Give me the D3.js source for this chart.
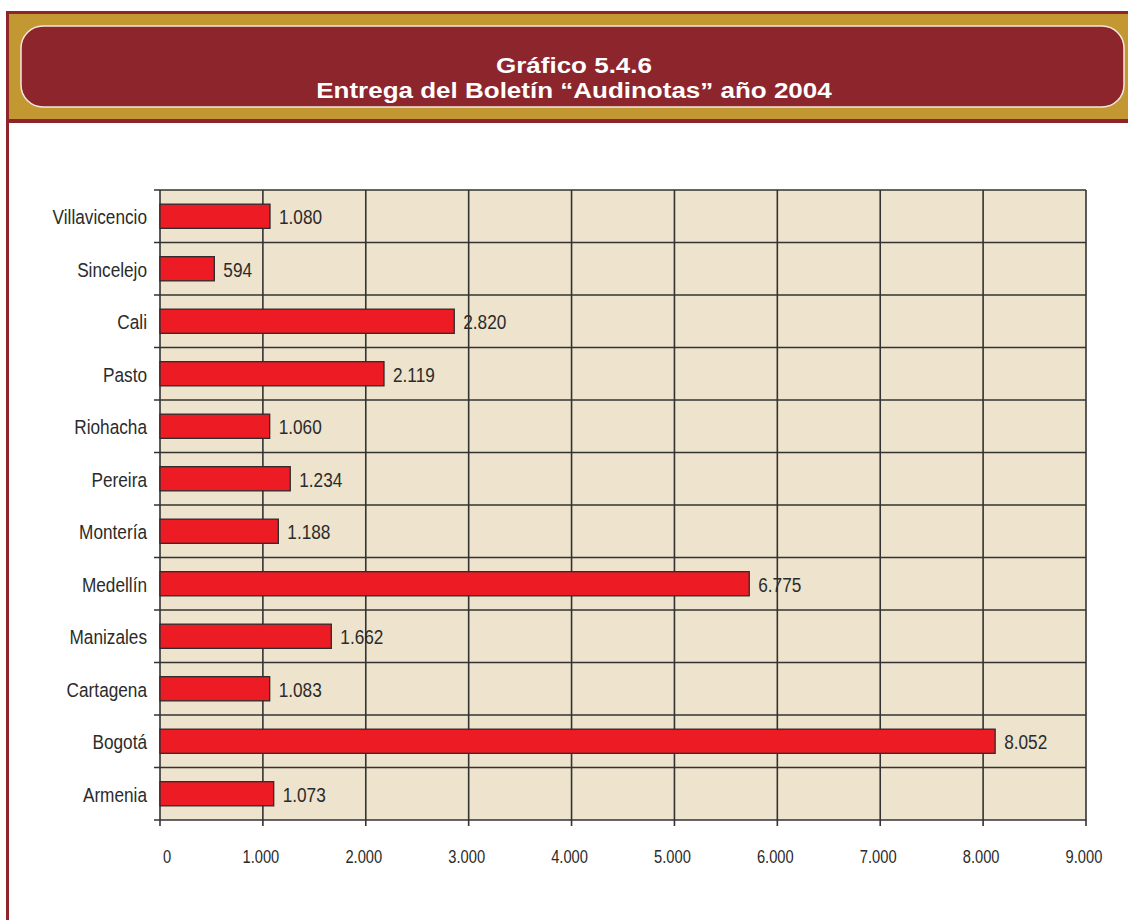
<!DOCTYPE html>
<html>
<head>
<meta charset="utf-8">
<script src="https://cdn.jsdelivr.net/npm/d3@7"></script>
<style>
  html, body { margin: 0; padding: 0; background: #fff; }
  svg { display: block; font-family: "Liberation Sans", Arial, sans-serif; }
</style>
</head>
<body>
<div id="graph"></div>
<script>
// Chart data
const categories = ["Villavicencio", "Sincelejo", "Cali", "Pasto", "Riohacha", "Pereira",
    "Montería", "Medellín", "Manizales", "Cartagena", "Bogotá", "Armenia"];
// bar lengths as drawn in the picture
const barValues = [1069, 528, 2860, 2177, 1066, 1266, 1150, 5727, 1665, 1066, 8117, 1105];
// numbers printed next to the bars
const valueLabels = ["1.080", "594", "2.820", "2.119", "1.060", "1.234", "1.188", "6.775",
    "1.662", "1.083", "8.052", "1.073"];
const xTicks = [0, 1000, 2000, 3000, 4000, 5000, 6000, 7000, 8000, 9000];
const titleLines = ["Gráfico 5.4.6", "Entrega del Boletín \u201CAudinotas\u201D año 2004"];

// Declare the chart dimensions and margins.
const width = 1128;
const height = 920;
const margin = { top: 190, right: 42, bottom: 100, left: 160 };
const squeeze = 0.84; // text in the picture is horizontally condensed

const fmt = d3.formatLocale({ decimal: ",", thousands: ".", grouping: [3], currency: ["", ""] }).format(",");

const svg = d3.select("#graph").append("svg")
    .attr("width", width)
    .attr("height", height);

// Header frame
svg.append("rect")
    .attr("x", 6).attr("y", 11)
    .attr("width", width - 6).attr("height", 112)
    .attr("fill", "#8E252D");
svg.append("rect")
    .attr("x", 9).attr("y", 14)
    .attr("width", width - 9).attr("height", 105)
    .attr("fill", "#C39731");
svg.append("rect")
    .attr("x", 6).attr("y", 11)
    .attr("width", 3).attr("height", height - 11)
    .attr("fill", "#8E252D");

svg.append("rect")
    .attr("x", 21).attr("y", 26)
    .attr("width", 1103).attr("height", 81)
    .attr("rx", 22).attr("ry", 22)
    .attr("fill", "#8D252C")
    .attr("stroke", "#F4E9DE")
    .attr("stroke-width", 1.5);

// Title, two tight lines (slightly flattened like the original)
svg.append("g")
    .selectAll("text")
    .data(titleLines)
    .join("text")
    .attr("transform", (d, i) => `translate(574,${72.5 + i * 25}) scale(1,0.86)`)
    .attr("text-anchor", "middle")
    .attr("fill", "#fff")
    .attr("font-weight", "bold")
    .attr("font-size", 26)
    .text(d => d);

// Create the positional scales.
const x = d3.scaleLinear()
    .domain([0, 9000])
    .range([margin.left, width - margin.right]);

const y = d3.scaleBand()
    .domain(categories)
    .range([margin.top, height - margin.bottom])
    .paddingInner(0.54)
    .paddingOuter(0.27);

const plotTop = margin.top;
const plotBottom = height - margin.bottom;
const step = y.step();

// Plot background
svg.append("rect")
    .attr("x", x(0)).attr("y", plotTop)
    .attr("width", x(9000) - x(0)).attr("height", plotBottom - plotTop)
    .attr("fill", "#EEE3CC");

// Grid lines
const gridColor = "#333333";
svg.append("g")
    .selectAll("line")
    .data(xTicks)
    .join("line")
    .attr("x1", d => x(d)).attr("x2", d => x(d))
    .attr("y1", plotTop).attr("y2", plotBottom + 6)
    .attr("stroke", gridColor)
    .attr("stroke-width", 1.6);

const rowEdges = d3.range(categories.length + 1).map(i => plotTop + i * step);
svg.append("g")
    .selectAll("line")
    .data(rowEdges)
    .join("line")
    .attr("x1", x(0) - 6).attr("x2", x(9000))
    .attr("y1", d => d).attr("y2", d => d)
    .attr("stroke", gridColor)
    .attr("stroke-width", 1.6);

// Bars
svg.append("g")
    .selectAll("rect")
    .data(categories)
    .join("rect")
    .attr("x", x(0))
    .attr("y", d => y(d))
    .attr("width", (d, i) => x(barValues[i]) - x(0))
    .attr("height", y.bandwidth())
    .attr("fill", "#ED1C24")
    .attr("stroke", "#2E2A2A")
    .attr("stroke-width", 1.3);

// Condensed text helper
function squeezed(sel, fx, fy) {
    return sel.attr("transform", (d, i) => `translate(${fx(d, i)},${fy(d, i)}) scale(${squeeze},1)`);
}

// Value labels
svg.append("g")
    .attr("font-size", 20.5)
    .attr("fill", "#2b2b2b")
    .selectAll("text")
    .data(categories)
    .join("text")
    .call(squeezed, (d, i) => x(barValues[i]) + 9, d => y(d) + y.bandwidth() / 2 + 8)
    .text((d, i) => valueLabels[i]);

// Category labels
svg.append("g")
    .attr("font-size", 20.5)
    .attr("fill", "#2b2b2b")
    .attr("text-anchor", "end")
    .selectAll("text")
    .data(categories)
    .join("text")
    .call(squeezed, () => x(0) - 13, d => y(d) + y.bandwidth() / 2 + 8)
    .text(d => d);

// Tick labels
svg.append("g")
    .attr("font-size", 17.5)
    .attr("fill", "#2b2b2b")
    .attr("text-anchor", "middle")
    .selectAll("text")
    .data(xTicks)
    .join("text")
    .call(squeezed, d => x(d) + (d === 0 ? 7 : -2), () => plotBottom + 43)
    .text(d => fmt(d));
</script>
</body>
</html>
